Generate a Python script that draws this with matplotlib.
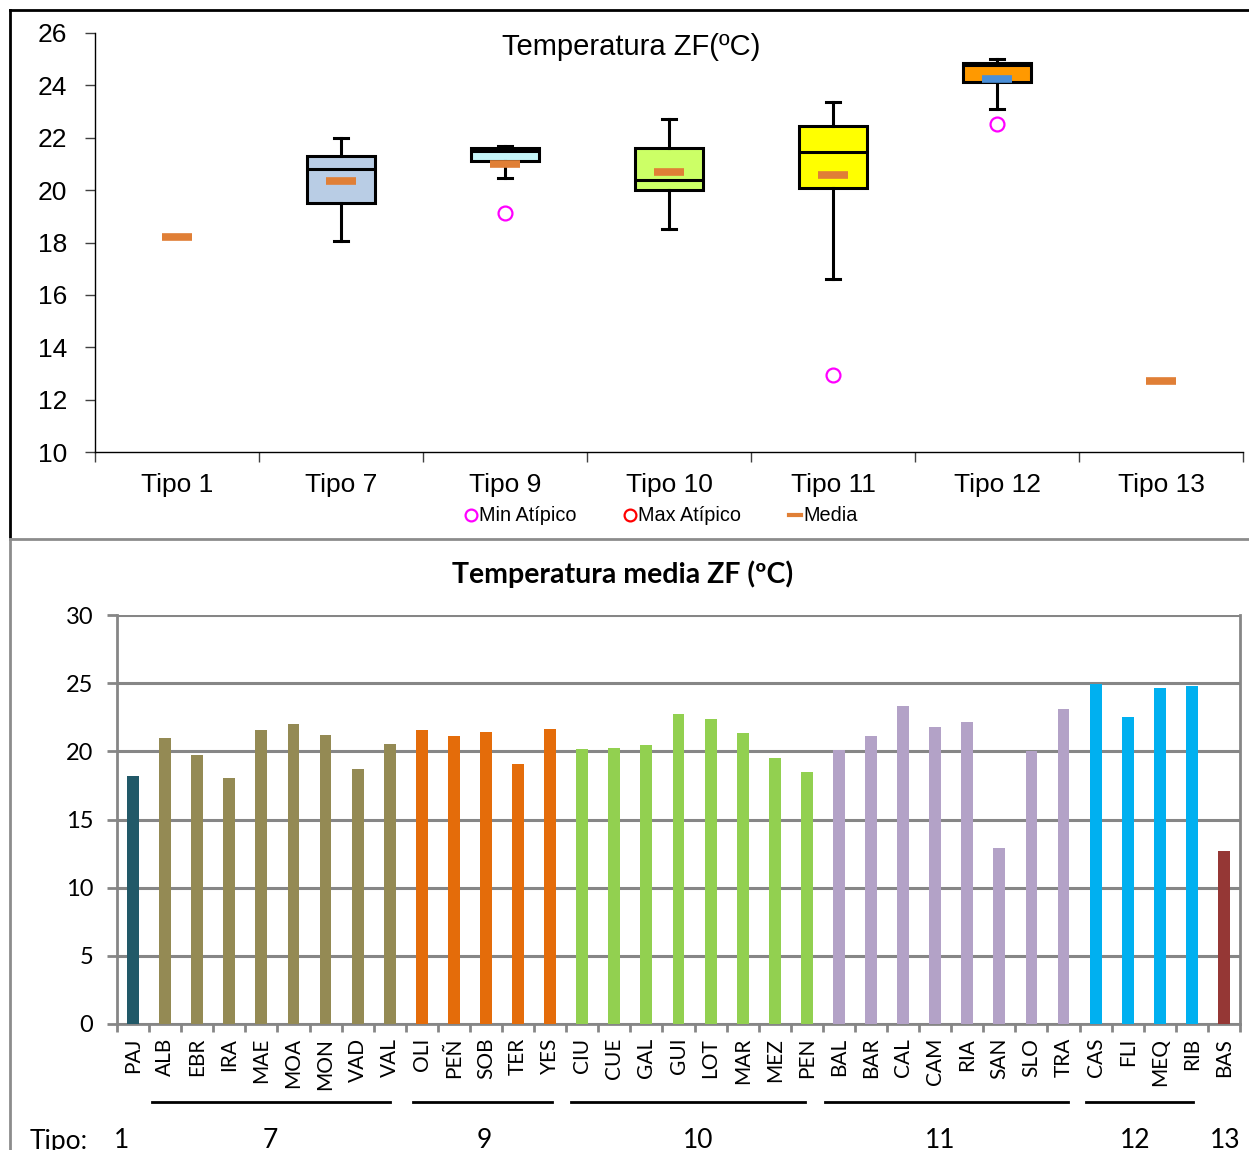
import numpy as np
import matplotlib.pyplot as plt
from matplotlib.lines import Line2D

# --- data: box plot (top) ---
tipos = ['Tipo 1', 'Tipo 7', 'Tipo 9', 'Tipo 10', 'Tipo 11', 'Tipo 12', 'Tipo 13']
box_q1 = [None, 19.5, 21.12, 20.02, 20.07, 24.12, None]
box_med = [None, 20.8, 21.5, 20.37, 21.45, 24.78, None]
box_q3 = [None, 21.3, 21.6, 21.6, 22.45, 24.84, None]
box_lo = [None, 18.06, 20.45, 18.5, 16.6, 23.08, None]
box_hi = [None, 22.0, 21.68, 22.72, 23.36, 25.0, None]
box_min_out = [None, None, 19.11, None, 12.94, 22.52, None]
box_mean = [18.21, 20.35, 20.98, 20.68, 20.58, 24.24, 12.71]
box_colors = [None, '#B9CDE5', '#C5F5F8', '#CCFF66', '#FFFF00', '#FF9900', None]

# --- data: bar chart (bottom) ---
estaciones = ['PAJ', 'ALB', 'EBR', 'IRA', 'MAE', 'MOA', 'MON', 'VAD', 'VAL',
              'OLI', 'PEÑ', 'SOB', 'TER', 'YES',
              'CIU', 'CUE', 'GAL', 'GUI', 'LOT', 'MAR', 'MEZ', 'PEN',
              'BAL', 'BAR', 'CAL', 'CAM', 'RIA', 'SAN', 'SLO', 'TRA',
              'CAS', 'FLI', 'MEQ', 'RIB', 'BAS']
temp_media = [18.2, 20.98, 19.73, 18.05, 21.57, 22.0, 21.2, 18.7, 20.54,
              21.57, 21.13, 21.42, 19.08, 21.64,
              20.18, 20.25, 20.47, 22.74, 22.38, 21.35, 19.52, 18.49,
              20.1, 21.13, 23.33, 21.79, 22.16, 12.9, 20.03, 23.11,
              24.94, 22.52, 24.65, 24.8, 12.69]
grupo = [1] + [7] * 8 + [9] * 5 + [10] * 8 + [11] * 8 + [12] * 4 + [13]
grupo_color = {1: '#215968', 7: '#948A54', 9: '#E46C0A', 10: '#92D050',
               11: '#B3A2C7', 12: '#00B0F0', 13: '#953735'}

fig = plt.figure(figsize=(12.49, 11.5), dpi=100)
W, H = 1249, 1150

def px(x, y):
    return x / W, 1 - y / H

# panel frames
fig.add_artist(Line2D([px(10, 0)[0], 1], [px(0, 10)[1]] * 2, color='black', lw=2))
fig.add_artist(Line2D([px(10, 0)[0]] * 2, [px(0, 10)[1], px(0, 539)[1]], color='black', lw=2))
fig.add_artist(Line2D([px(10, 0)[0], 1], [px(0, 539)[1]] * 2, color='#8C8C8C', lw=2))
fig.add_artist(Line2D([px(10, 0)[0]] * 2, [px(0, 539)[1], 0], color='#8C8C8C', lw=2))

# ---------------- top: box plot ----------------
ax1 = fig.add_axes([95 / W, 1 - 452 / H, (1243 - 95) / W, (452 - 33) / H])
x = np.arange(len(tipos))
for i in range(len(tipos)):
    if box_q1[i] is None:
        continue
    st = dict(med=box_med[i], q1=box_q1[i], q3=box_q3[i],
              whislo=box_lo[i], whishi=box_hi[i], fliers=[])
    ax1.bxp([st], positions=[i], widths=0.41, patch_artist=True, showfliers=False,
            boxprops=dict(facecolor=box_colors[i], edgecolor='black', lw=2.2),
            medianprops=dict(color='black', lw=2.2),
            whiskerprops=dict(color='black', lw=2.2),
            capprops=dict(color='black', lw=2.2), capwidths=0.09)
    if box_min_out[i] is not None:
        ax1.plot(i, box_min_out[i], 'o', mfc='none', mec='#FF00FF', ms=10, mew=1.6, zorder=5)
for i, m in enumerate(box_mean):
    c = '#4A8FD8' if tipos[i] == 'Tipo 12' else '#E07F36'
    ax1.plot(i, m, marker='_', color=c, ms=21, mew=5.5, zorder=6)

ax1.set_xlim(-0.5, len(tipos) - 0.5)
ax1.set_ylim(10, 26)
ax1.set_yticks(np.arange(10, 27, 2))
ax1.set_xticks(x)
ax1.set_xticklabels(tipos)
ax1.set_xticks(np.arange(-0.5, len(tipos)), minor=True)
ax1.tick_params(axis='x', which='major', length=0, pad=15, labelsize=19)
ax1.tick_params(axis='x', which='minor', length=7, color='#404040', width=1)
ax1.tick_params(axis='y', length=7, width=1, color='#404040', labelsize=19, pad=13)
for s in ['top', 'right']:
    ax1.spines[s].set_visible(False)
ax1.spines['left'].set_linewidth(1)
ax1.spines['bottom'].set_linewidth(1)
for lab in ax1.get_xticklabels() + ax1.get_yticklabels():
    lab.set_fontfamily('Liberation Sans')
fig.text(*px(631, 47), 'Temperatura ZF(ºC)', ha='center', va='center',
         fontsize=21, family='Liberation Sans')

# legend (manual)
fig.add_artist(Line2D([px(471, 0)[0]], [px(0, 515)[1]], marker='o', mfc='none', mec='#FF00FF',
                      ms=8.5, mew=1.6, ls='none'))
fig.text(*px(479, 515), 'Min Atípico', fontsize=14.3, va='center', family='Liberation Sans')
fig.add_artist(Line2D([px(630, 0)[0]], [px(0, 515)[1]], marker='o', mfc='none', mec='#FF0000',
                      ms=8.5, mew=1.6, ls='none'))
fig.text(*px(638, 515), 'Max Atípico', fontsize=14.3, va='center', family='Liberation Sans')
fig.add_artist(Line2D([px(789, 0)[0], px(801, 0)[0]], [px(0, 515)[1]] * 2, color='#E07F36', lw=3))
fig.text(*px(803, 515), 'Media', fontsize=14.3, va='center', family='Liberation Sans')

# ---------------- bottom: bar chart ----------------
ax2 = fig.add_axes([117 / W, 1 - 1024 / H, (1240 - 117) / W, (1024 - 615) / H])
xb = np.arange(len(estaciones))
ax2.bar(xb, temp_media, width=0.37, color=[grupo_color[g] for g in grupo], zorder=3)
ax2.set_xlim(-0.5, len(estaciones) - 0.5)
ax2.set_ylim(0, 30)
ax2.set_yticks(np.arange(0, 31, 5))
ax2.yaxis.grid(True, color='#868686', lw=2.2, zorder=0)
ax2.set_xticks(xb)
ax2.set_xticklabels(estaciones, rotation=90)
ax2.set_xticks(np.arange(-0.5, len(estaciones)), minor=True)
ax2.tick_params(axis='x', which='major', length=0, pad=10, labelsize=15)
ax2.tick_params(axis='x', which='minor', length=6, color='#868686', width=2)
ax2.tick_params(axis='y', length=7, width=2, color='#868686', labelsize=17, pad=10)
for s in ['left', 'right', 'bottom']:
    ax2.spines[s].set_color('#868686')
    ax2.spines[s].set_linewidth(2)
ax2.spines['top'].set_visible(False)
for lab in ax2.get_xticklabels() + ax2.get_yticklabels():
    lab.set_fontfamily('Lato')
fig.text(*px(623, 574), 'Temperatura media ZF (ºC)', ha='center', va='center',
         fontsize=20.5, fontweight='bold', family='Lato')

# group lines and type labels under the bar chart
tipo_lineas = [(152, 390), (413, 552), (571, 805), (825, 1068), (1086, 1193)]
for a, b in tipo_lineas:
    fig.add_artist(Line2D([px(a, 0)[0], px(b, 0)[0]], [px(0, 1102)[1]] * 2, color='black', lw=2))
tipo_nums = ['Tipo:', '1', '7', '9', '10', '11', '12', '13']
tipo_x = [59, 122, 270, 484, 698, 940, 1135, 1225]
for t, xx in zip(tipo_nums, tipo_x):
    fig.text(*px(xx, 1141), t, fontsize=19, ha='center', va='center', family='Lato')

fig.savefig('out.png', dpi=100)
